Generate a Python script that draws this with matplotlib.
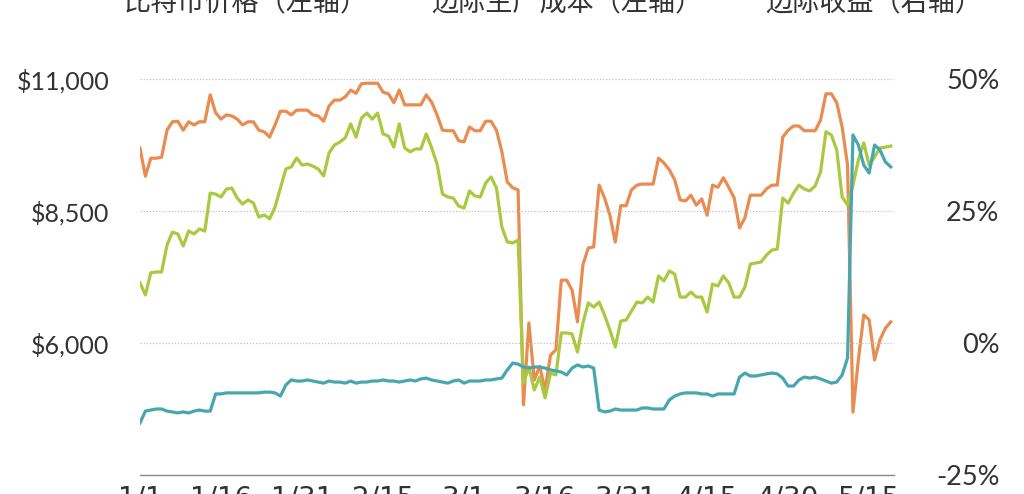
import matplotlib
matplotlib.use("Agg")
import matplotlib.pyplot as plt
from matplotlib.lines import Line2D
import numpy as np

# ---- data (day 0 = 1/1/2020) ----
price = [7140, 6910, 7330, 7345, 7345, 7856, 8100, 8065, 7837, 8120,
         8065, 8160, 8120, 8840, 8820, 8765, 8915, 8935, 8745, 8630,
         8710, 8650, 8385, 8425, 8350, 8575, 8935, 9295, 9335, 9505,
         9370, 9390, 9350, 9295, 9165, 9600, 9750, 9805, 9885, 10150,
         9900, 10260, 10355, 10240, 10355, 9960, 9920, 9710, 10150, 9695,
         9620, 9675, 9675, 9960, 9695, 9390, 8820, 8765, 8745, 8595,
         8555, 8880, 8785, 8765, 9030, 9145, 8935, 8195, 7915, 7895,
         7950, 5240, 5545, 5110, 5355, 4960, 5430, 5395, 6190, 6190,
         6170, 5830, 6380, 6760, 6680, 6775, 6530, 6245, 5925, 6415,
         6435, 6605, 6775, 6760, 6870, 6775, 7270, 7175, 7365, 7305,
         6870, 6870, 6965, 6870, 6870, 6585, 7115, 7080, 7270, 7140,
         6870, 6870, 7060, 7495, 7515, 7535, 7665, 7760, 7780, 8745,
         8650, 8840, 8990, 8915, 8880, 8975, 9240, 10000, 9940, 9655,
         8765, 8615, 8990, 9465, 9790, 9370, 9525, 9695, 9710, 9730]

cost = [4485, 4710, 4730, 4750, 4750, 4710, 4695, 4675, 4695, 4675,
        4710, 4730, 4710, 4710, 5035, 5035, 5055, 5055, 5055, 5055,
        5055, 5055, 5055, 5070, 5070, 5055, 4995, 5205, 5300, 5280,
        5280, 5300, 5280, 5260, 5240, 5280, 5260, 5260, 5240, 5280,
        5240, 5260, 5260, 5280, 5280, 5300, 5280, 5280, 5260, 5280,
        5300, 5280, 5320, 5335, 5300, 5280, 5260, 5240, 5280, 5300,
        5240, 5280, 5280, 5280, 5300, 5300, 5320, 5335, 5490, 5620,
        5600, 5545, 5525, 5545, 5545, 5525, 5490, 5470, 5450, 5395,
        5525, 5585, 5545, 5565, 5525, 4730, 4695, 4710, 4750, 4730,
        4730, 4730, 4730, 4770, 4770, 4750, 4750, 4750, 4920, 4995,
        5035, 5055, 5055, 5055, 5035, 5035, 4995, 5035, 5035, 5035,
        5035, 5355, 5430, 5375, 5375, 5395, 5415, 5430, 5415, 5335,
        5185, 5185, 5300, 5355, 5335, 5355, 5320, 5280, 5240, 5260,
        5395, 5715, 9940, 9750, 9370, 9220, 9750, 9655, 9430, 9335]

margin = [36.9, 31.6, 35.0, 35.0, 35.2, 40.3, 41.9, 42.0, 40.3, 41.9,
          41.3, 41.9, 41.9, 47.0, 43.6, 42.4, 43.2, 43.0, 42.4, 41.3,
          41.9, 41.9, 40.3, 40.0, 39.0, 41.3, 43.9, 43.9, 43.2, 44.1,
          44.1, 44.1, 43.2, 43.0, 42.0, 44.9, 46.0, 46.0, 46.6, 47.9,
          47.3, 49.1, 49.2, 49.2, 49.2, 47.5, 47.2, 45.5, 47.9, 45.1,
          45.1, 45.1, 45.1, 47.0, 45.6, 43.2, 40.3, 40.2, 40.2, 38.3,
          38.1, 40.9, 40.2, 40.2, 42.0, 42.0, 40.3, 36.2, 30.5, 29.4,
          29.0, -11.7, 3.8, -7.0, -4.4, -8.9, -2.3, -1.3, 11.9, 11.9,
          10.0, 4.0, 14.8, 18.0, 18.2, 29.9, 27.5, 24.2, 19.1, 26.0,
          26.0, 29.0, 29.9, 30.1, 30.1, 30.1, 35.0, 34.1, 32.8, 30.9,
          27.1, 26.9, 28.0, 26.1, 27.3, 24.2, 29.9, 29.5, 31.3, 29.5,
          27.5, 21.8, 23.7, 28.0, 28.0, 28.0, 29.2, 29.9, 29.9, 39.0,
          40.3, 41.1, 41.1, 40.2, 40.2, 40.2, 42.2, 47.2, 47.2, 45.5,
          40.9, 33.7, -13.1, -3.2, 5.3, 4.4, -3.2, 0.6, 2.8, 4.0]

days = np.arange(len(price))
tick_days = [0, 15, 30, 45, 60, 75, 90, 105, 120, 135]
tick_labels = ["1/1", "1/16", "1/31", "2/15", "3/1", "3/16", "3/31", "4/15", "4/30", "5/15"]
left_ticks = [6000, 8500, 11000]
left_labels = ["$6,000", "$8,500", "$11,000"]
right_ticks = [-25, 0, 25, 50]
right_labels = ["-25%", "0%", "25%", "50%"]
legend_labels = ["比特币价格（左轴）", "边际生产成本（左轴）", "边际收益（右轴）"]

c_price = "#A8C940"
c_cost = "#48A6AF"
c_margin = "#E88C52"
txt = "#333333"

fig = plt.figure(figsize=(10.24, 4.94), dpi=100)
ax = fig.add_axes([140/1024, 1-475/494, (894-140)/1024, (475-79)/494])
ax2 = ax.twinx()

ax.set_xlim(0, 139.6)
ax.set_ylim(3500, 11000)
ax2.set_ylim(-25, 50)

for y in left_ticks:
    ax.axhline(y, color="#c0c0c0", lw=0.9, ls=(0, (1, 1.5)), zorder=0)

ax.plot(days, price, color=c_price, lw=2.3, zorder=3)
ax.plot(days, cost, color=c_cost, lw=2.3, zorder=4)
ax2.plot(days, margin, color=c_margin, lw=2.3, zorder=2)
ax.set_zorder(ax2.get_zorder() + 1)
ax.patch.set_visible(False)

for a in (ax, ax2):
    for s in a.spines.values():
        s.set_visible(False)
ax.spines["bottom"].set_visible(True)
ax.spines["bottom"].set_color("#8a8a8a")
ax.spines["bottom"].set_linewidth(1.0)

ax.set_xticks(tick_days)
ax.set_xticklabels(tick_labels, fontsize=20, color=txt, family=["Liberation Sans Narrow", "DejaVu Sans"])
ax.tick_params(axis="x", length=0, pad=7)

ax.set_yticks(left_ticks)
ax.set_yticklabels(left_labels, fontsize=18, color=txt, family=["Lato", "DejaVu Sans"])
ax.tick_params(axis="y", length=0, pad=22)

ax2.set_yticks(right_ticks)
ax2.set_yticklabels(right_labels, fontsize=19.5, color=txt, family=["Lato", "DejaVu Sans"])
ax2.tick_params(axis="y", length=0, pad=76)
for lab in ax2.get_yticklabels():
    lab.set_horizontalalignment("right")

# legend (cut off at top, as in the reference)
leg_x = [124, 431, 765]
leg_colors = [c_price, c_cost, c_margin]
for lx, lab, col in zip(leg_x, legend_labels, leg_colors):
    fig.text(lx/1024, 1-10/494, lab, fontsize=19.5, color=txt, va="baseline", ha="left",
             family=["Noto Sans CJK SC", "DejaVu Sans"])
    fig.add_artist(Line2D([(lx-32)/1024, (lx-8)/1024], [1+1/494, 1+1/494],
                          transform=fig.transFigure, color=col, lw=2))

fig.savefig("out.png", dpi=100)
